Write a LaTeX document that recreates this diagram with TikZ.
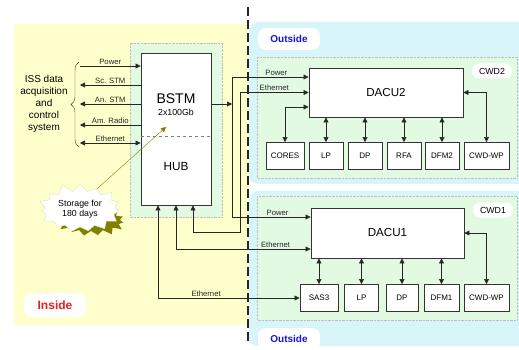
\documentclass[tikz,border=0pt]{standalone}
\usepackage{fontspec}
\setmainfont{Liberation Sans}
\usetikzlibrary{arrows.meta,positioning,calc,shapes.symbols,decorations.pathreplacing}
\definecolor{insideyellow}{RGB}{255,255,204}
\definecolor{outsideblue}{RGB}{216,245,250}
\definecolor{unitgreen}{RGB}{226,250,226}
\definecolor{stormud}{RGB}{128,128,0}
\definecolor{insidered}{RGB}{230,30,30}
\definecolor{outsideblu}{RGB}{20,20,230}

\tikzset{
  >={Triangle[length=5pt,width=5pt]},
  unit/.style={draw=black!80, fill=white, line width=0.9pt, inner sep=0pt},
  sensor/.style={unit, minimum height=27pt, font=\fontsize{8}{9}\selectfont},
  zone/.style={fill=unitgreen, draw=gray!50, densely dotted},
  tag/.style={fill=white, rounded corners=8pt, inner sep=0pt},
  wire/.style={line width=0.6pt, black!85},
  sig/.style={font=\fontsize{7.7}{9}\selectfont, inner sep=1.2pt},
  burstshape/.style={starburst, minimum width=72pt, minimum height=38pt,
    starburst point height=9pt, starburst points=15, random starburst=11}
}

\begin{document}
\begin{tikzpicture}[x=1pt, y=-1pt]
  \useasboundingbox (0,0) rectangle (519,350);

  % Inside / outside zones
  \fill[insideyellow] (14,24) rectangle (249,325);
  \fill[outsideblue, rounded corners=9pt] (249,22) rectangle (540,184);
  \fill[outsideblue, rounded corners=9pt] (249,191) rectangle (540,346);
  \draw[black!85, line width=1.6pt, dash pattern=on 9pt off 4pt]
    (248,7) -- (248,341);

  % Green unit areas
  \draw[zone] (130,43) rectangle (222,217);
  \draw[zone] (257,57) rectangle (517,178);
  \draw[zone] (257,196) rectangle (517,320);

  % Zone tags
  \node[tag, minimum width=62pt, minimum height=24pt, text=insidered,
    font=\fontsize{12}{14}\selectfont\bfseries] (inside) at (55,305) {Inside};
  \node[tag, minimum width=62pt, minimum height=22pt, text=outsideblu,
    font=\fontsize{10}{12}\selectfont\bfseries] (outtop) at (289,39) {Outside};
  \node[tag, minimum width=62pt, minimum height=22pt, text=outsideblu,
    font=\fontsize{10}{12}\selectfont\bfseries] (outbot) at (289,339) {Outside};
  \node[tag, rounded corners=7pt, minimum width=40pt, minimum height=15pt,
    font=\fontsize{8.8}{10}\selectfont] (cwd2) at (492,71) {CWD2};
  \node[tag, rounded corners=7pt, minimum width=40pt, minimum height=15pt,
    font=\fontsize{8.8}{10}\selectfont] (cwd1) at (493,210) {CWD1};

  % BSTM and HUB
  \node[unit, minimum width=70pt, minimum height=152pt] (bstm) at (176,129) {};
  \draw[gray, dashed, line width=0.9pt] (bstm.west |- 0,136) -- (bstm.east |- 0,136);
  \node[font=\fontsize{14}{16}\selectfont] (bstmname) at (176,99) {BSTM};
  \node[font=\fontsize{8.8}{10}\selectfont] (bstmsize) at (176,112) {2x100Gb};
  \node[font=\fontsize{11.8}{13}\selectfont] (hub) at (176,166) {HUB};

  % ISS side
  \node[font=\fontsize{10}{12}\selectfont, align=center] (iss) at (44,104)
    {ISS data\\acquisition\\and\\control\\system};
  \draw[decorate, decoration={brace, amplitude=8pt}, black!80]
    (79,147) -- (79,62);
  \coordinate (isspwr) at (80,66);
  \coordinate (issscs) at (80,85);
  \coordinate (issans) at (80,104);
  \coordinate (issrad) at (80,125);
  \coordinate (isseth) at (80,143);
  \draw[wire, ->] (isspwr) -- (isspwr -| bstm.west) node[sig, midway, above] {Power};
  \draw[wire, <-] (issscs) -- (issscs -| bstm.west) node[sig, midway, above] {Sc. STM};
  \draw[wire, <-] (issans) -- (issans -| bstm.west) node[sig, midway, above] {An. STM};
  \draw[wire, <-] (issrad) -- (issrad -| bstm.west) node[sig, midway, above] {Am. Radio};
  \draw[wire, <->] (isseth) -- (isseth -| bstm.west) node[sig, midway, above] {Ethernet};

  % Storage note
  \node[burstshape, fill=stormud, minimum width=76pt] (burstshade) at (91,221) {};
  \node[burstshape, fill=white, draw=stormud!25, align=center,
    font=\fontsize{8.8}{10.5}\selectfont] (burst) at (80,209)
    {Storage for\\180 days};
  \coordinate (storetip) at (166,127);
  \draw[stormud, ->] (burst.50) -- (storetip);

  % CWD2
  \node[unit, minimum width=154pt, minimum height=49pt,
    font=\fontsize{11.6}{13}\selectfont] (dacu2) at (386,92.5) {DACU2};
  \node[sensor, minimum width=38pt] (cores2) at (285,156) {CORES};
  \node[sensor, minimum width=34pt] (lp2) at (326,156) {LP};
  \node[sensor, minimum width=34pt] (dp2) at (365,156) {DP};
  \node[sensor, minimum width=34pt] (rfa2) at (404,156) {RFA};
  \node[sensor, minimum width=34pt] (dfm2) at (442,156) {DFM2};
  \node[sensor, minimum width=45pt] (wp2) at (486.5,156) {CWD-WP};
  \foreach \s in {lp2,dp2,rfa2,dfm2}
    \draw[wire, <->] (dacu2.south -| \s.north) -- (\s.north);
  \draw[wire, <->] (dacu2.west |- 0,107) -| (cores2.north);
  \draw[wire, <->] (dacu2.east) -| (wp2.north);

  % CWD1
  \node[unit, minimum width=153pt, minimum height=50pt,
    font=\fontsize{11.6}{13}\selectfont] (dacu1) at (387.5,233) {DACU1};
  \node[sensor, minimum width=38pt] (sas3) at (319,298) {SAS3};
  \node[sensor, minimum width=34pt] (lp1) at (361.5,298) {LP};
  \node[sensor, minimum width=32pt] (dp1) at (402,298) {DP};
  \node[sensor, minimum width=35pt] (dfm1) at (441.5,298) {DFM1};
  \node[sensor, minimum width=45pt] (wp1) at (486.5,298) {CWD-WP};
  \foreach \s in {sas3,lp1,dp1,dfm1}
    \draw[wire, <->] (dacu1.south -| \s.north) -- (\s.north);
  \draw[wire, <->] (dacu1.east) -| (wp1.north);

  % Power from BSTM
  \coordinate (pwrbus) at (232,104);
  \coordinate (pwr2) at (232,77);
  \coordinate (pwr1) at (232,217);
  \draw[wire, ->] (bstm.east |- pwrbus) -- (pwrbus);
  \draw[wire] (pwr2) -- (pwr1);
  \draw[wire, ->] (pwr2) -- (pwr2 -| dacu2.west) node[sig, pos=0.58, above] {Power};
  \draw[wire, ->] (pwr1) -- (pwr1 -| dacu1.west) node[sig, pos=0.58, above] {Power};

  % Ethernet from HUB
  \coordinate (eth2) at (193,232);
  \coordinate (eth1) at (176,249);
  \coordinate (eth0) at (158,297);
  \draw[wire, <->] (bstm.south -| eth2) -- (eth2) -- ++(47,0) |- (dacu2.west)
    node[sig, pos=0.75, above] {Ethernet};
  \draw[wire, <->] (bstm.south -| eth1) |- (eth1 -| dacu1.west)
    node[sig, pos=0.87, above] {Ethernet};
  \draw[wire, <->] (bstm.south -| eth0) |- (sas3.west)
    node[sig, pos=0.67, above] {Ethernet};

\end{tikzpicture}
\end{document}
